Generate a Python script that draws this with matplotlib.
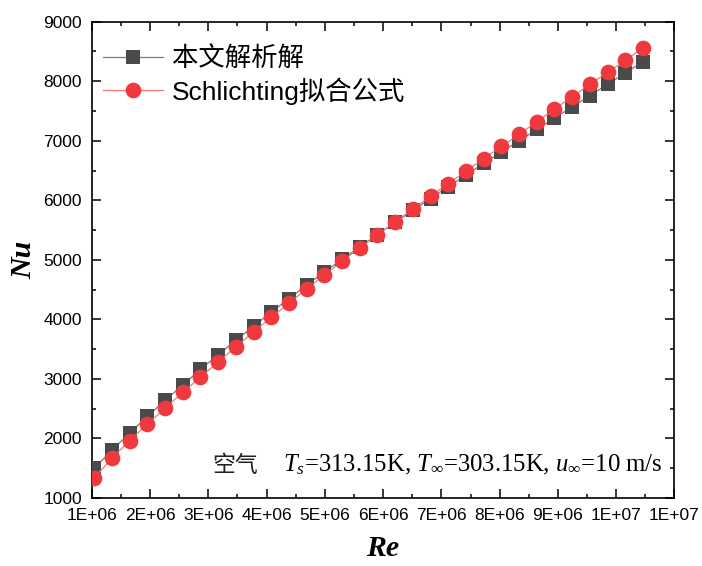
import matplotlib
matplotlib.use("Agg")
import matplotlib.pyplot as plt
from matplotlib.ticker import MultipleLocator, FuncFormatter

plt.rcParams['mathtext.fontset'] = 'custom'
plt.rcParams['mathtext.rm'] = 'Liberation Serif'
plt.rcParams['mathtext.it'] = 'Liberation Serif:italic'
plt.rcParams['mathtext.bf'] = 'Liberation Serif:bold'

# Reynolds numbers (x 1e6)
re_millions = [1.045, 1.349, 1.652, 1.956, 2.260, 2.563, 2.867, 3.171,
               3.475, 3.778, 4.082, 4.386, 4.689, 4.993, 5.297, 5.600,
               5.904, 6.208, 6.512, 6.815, 7.119, 7.423, 7.726, 8.030,
               8.334, 8.637, 8.941, 9.245, 9.549, 9.852, 10.156, 10.460]

# Nusselt number, analytical solution
nu_analytic = [1500, 1805, 2090, 2370, 2640, 2900, 3160, 3405,
               3650, 3885, 4120, 4350, 4575, 4795, 5010, 5220,
               5425, 5630, 5830, 6030, 6230, 6425, 6620, 6810,
               7000, 7190, 7380, 7570, 7760, 7950, 8135, 8330]

# Nusselt number, Schlichting correlation
nu_schlichting = [1340, 1670, 1965, 2240, 2510, 2775, 3030, 3285,
                  3540, 3790, 4035, 4275, 4510, 4745, 4975, 5200,
                  5420, 5640, 5855, 6070, 6280, 6490, 6700, 6905,
                  7110, 7320, 7530, 7740, 7950, 8150, 8350, 8560]

series_labels = ["本文解析解", "Schlichting拟合公式"]

re_values = [v * 1e6 for v in re_millions]

fig = plt.figure(figsize=(7.02, 5.66), dpi=100)
ax = fig.add_axes([0.1306, 0.1201, 0.8302, 0.8416])

ax.plot(re_values, nu_analytic, color='#7a7a7a', lw=0.9,
        marker='s', ms=10, mfc='#4a4a4a', mec='#4a4a4a', mew=0,
        label=series_labels[0], zorder=3)
ax.plot(re_values, nu_schlichting, color='#f07a7a', lw=0.9,
        marker='o', ms=11.3, mfc='#f0393f', mec='#f0393f', mew=0,
        label=series_labels[1], zorder=4)

ax.set_xlim(1e6, 1.1e7)
ax.set_ylim(1000, 9000)
ax.xaxis.set_major_locator(MultipleLocator(1e6))
ax.xaxis.set_minor_locator(MultipleLocator(5e5))
ax.yaxis.set_major_locator(MultipleLocator(1000))
ax.yaxis.set_minor_locator(MultipleLocator(500))
ax.xaxis.set_major_formatter(FuncFormatter(lambda v, p: f"{v:.0E}"))

for s in ax.spines.values():
    s.set_linewidth(1.2)

ax.tick_params(which='both', direction='in', top=True, right=True,
               width=1.1, labelsize=12.5, pad=7)
ax.tick_params(which='major', length=6.5)
ax.tick_params(which='minor', length=3.2)
for lab in ax.get_xticklabels() + ax.get_yticklabels():
    lab.set_fontfamily('Liberation Sans')

ax.set_xlabel('Re', fontfamily='Liberation Serif', fontweight='bold',
              fontstyle='italic', fontsize=21.5)
ax.set_ylabel('Nu', fontfamily='Liberation Serif', fontweight='bold',
              fontstyle='italic', fontsize=21.5)
ax.xaxis.set_label_coords(0.5, -0.077)
ax.yaxis.set_label_coords(-0.094, 0.5)

leg = ax.legend(loc='upper left', bbox_to_anchor=(-0.021, 0.998),
                frameon=False, handlelength=2.25, handletextpad=0.34,
                labelspacing=0.22,
                prop={'family': ['Liberation Sans', 'Noto Sans CJK SC'],
                      'size': 19})

ax.text(0.207, 0.055, "空气", transform=ax.transAxes,
        fontfamily=['Noto Sans CJK SC'], fontsize=16.5, va='baseline',
        ha='left', color='#222222')
ax.text(0.979, 0.055,
        r"$T_s$=313.15K, $T_\infty$=303.15K, $u_\infty$=10 m/s",
        transform=ax.transAxes, fontfamily='Liberation Serif',
        fontsize=17.8, va='baseline', ha='right')

fig.savefig("out.png", dpi=100)
